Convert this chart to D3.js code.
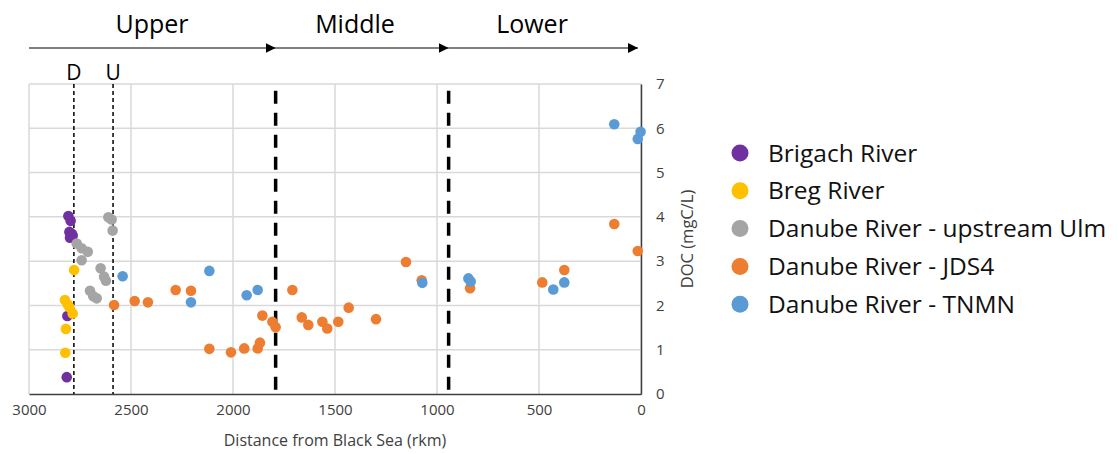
<!DOCTYPE html>
<html><head><meta charset="utf-8">
<script src="https://cdn.jsdelivr.net/npm/d3@7"></script>
<style>body{margin:0;background:#fff;}svg{font-family:"Open Sans",sans-serif;}</style>
</head><body><svg id="c" width="1118" height="454"></svg>
<script>
const seriesNames = ["Brigach River","Breg River","Danube River - upstream Ulm","Danube River - JDS4","Danube River - TNMN"];
const seriesColors = ["#7030A0","#FFC000","#A5A5A5","#ED7D31","#5B9BD5"];
const brigach = [[2807,4.02],[2796,3.91],[2802,3.66],[2790,3.62],[2799,3.53],[2786,3.58],[2812,1.76],[2815,0.38]];
const breg = [[2779,2.80],[2824,2.12],[2810,2.02],[2802,1.96],[2786,1.82],[2819,1.47],[2822,0.93]];
const upstreamUlm = [[2611,3.99],[2595,3.94],[2590,3.69],[2766,3.40],[2742,3.29],[2712,3.21],[2742,3.02],[2649,2.84],[2632,2.65],[2623,2.56],[2701,2.33],[2685,2.21],[2668,2.16]];
const jds4 = [[2583,2.01],[2482,2.10],[2417,2.07],[2281,2.35],[2206,2.33],[2116,1.02],[2010,0.94],[1945,1.03],[1879,1.03],[1868,1.16],[1856,1.77],[1807,1.63],[1791,1.51],[1709,2.35],[1663,1.73],[1631,1.56],[1562,1.63],[1538,1.48],[1484,1.63],[1433,1.95],[1299,1.69],[1152,2.98],[1075,2.57],[838,2.39],[484,2.52],[376,2.80],[131,3.84],[16,3.23]];
const tnmn = [[2541,2.66],[2116,2.78],[2206,2.07],[1933,2.23],[1879,2.35],[1072,2.51],[846,2.61],[835,2.54],[430,2.36],[376,2.52],[131,6.09],[16,5.76],[2,5.92]];
const seriesData = [brigach, breg, upstreamUlm, jds4, tnmn];
const xTicks = [3000,2500,2000,1500,1000,500,0];
const yTicks = [0,1,2,3,4,5,6,7];
const sections = ["Upper","Middle","Lower"];
const sectionBounds = [3000,1791,943,0];
const thinLines = [{label:"D",km:2780},{label:"U",km:2588}];

const svg = d3.select("#c");
const x = d3.scaleLinear().domain([3000,0]).range([29,641]);
const y = d3.scaleLinear().domain([0,7]).range([394,84]);

// gridlines
svg.append("g").selectAll("line").data(yTicks.slice(1)).join("line")
  .attr("x1",x(3000)).attr("x2",x(0)).attr("y1",d=>y(d)).attr("y2",d=>y(d))
  .attr("stroke","#d9d9d9").attr("stroke-width",1.5);
svg.append("g").selectAll("line").data(xTicks).join("line")
  .attr("x1",d=>x(d)).attr("x2",d=>x(d)).attr("y1",y(0)).attr("y2",y(7))
  .attr("stroke","#d9d9d9").attr("stroke-width",1.5);

// bottom axis
const xAxis = svg.append("g").attr("transform",`translate(0,${y(0)})`)
  .call(d3.axisBottom(x).tickValues(xTicks).tickFormat(d3.format("d")).tickSize(0).tickPadding(10));
xAxis.select(".domain").attr("stroke","#404040").attr("stroke-width",1.5);
xAxis.selectAll("text").attr("font-size",15).attr("fill","#404040").attr("font-family","Open Sans");
// right axis
const yAxis = svg.append("g").attr("transform",`translate(${x(0)},0)`)
  .call(d3.axisRight(y).tickValues(yTicks).tickFormat(d3.format("d")).tickSize(0).tickPadding(15));
yAxis.select(".domain").attr("stroke","#404040").attr("stroke-width",1.5);
yAxis.selectAll("text").attr("font-size",15).attr("fill","#404040").attr("font-family","Open Sans");

svg.append("text").attr("x",335).attr("y",446).attr("text-anchor","middle")
  .attr("font-size",16).attr("fill","#404040").text("Distance from Black Sea (rkm)");
svg.append("text").attr("transform",`translate(693,${y(3.5)}) rotate(-90)`).attr("text-anchor","middle")
  .attr("font-size",16.5).attr("fill","#404040").text("DOC (mgC/L)");

// thin dashed lines D / U
thinLines.forEach(t=>{
  svg.append("line").attr("x1",x(t.km)).attr("x2",x(t.km)).attr("y1",y(7)).attr("y2",y(0))
    .attr("stroke","#000").attr("stroke-width",1.5).attr("stroke-dasharray","4,3");
  svg.append("text").attr("x",x(t.km)).attr("y",80).attr("text-anchor","middle")
    .attr("font-size",21).attr("fill","#000").text(t.label);
});
// thick dashed section lines
[sectionBounds[1],sectionBounds[2]].forEach(km=>{
  svg.append("line").attr("x1",x(km)).attr("x2",x(km)).attr("y1",y(6.85)).attr("y2",y(0))
    .attr("stroke","#000").attr("stroke-width",3.5).attr("stroke-dasharray","13,9");
});

// arrows
const defs = svg.append("defs");
defs.append("marker").attr("id","ah").attr("viewBox","0 0 10 10").attr("refX",10).attr("refY",5)
  .attr("markerWidth",10).attr("markerHeight",10).attr("markerUnits","userSpaceOnUse").attr("orient","auto")
  .append("path").attr("d","M0,0L10,5L0,10Z").attr("fill","#000");
sections.forEach((s,i)=>{
  const x1 = x(sectionBounds[i]), x2 = i===2 ? x(0)-3 : x(sectionBounds[i+1]);
  svg.append("line").attr("x1",x1).attr("x2",x2).attr("y1",48).attr("y2",48)
    .attr("stroke","#000").attr("stroke-width",1).attr("marker-end","url(#ah)");
});
const sectionLabelX = [152,355,532];
sections.forEach((s,i)=>{
  svg.append("text").attr("x",sectionLabelX[i]).attr("y",33).attr("text-anchor","middle")
    .attr("font-size",25).attr("fill","#000").text(s);
});

// points
seriesData.forEach((data,i)=>{
  svg.append("g").selectAll("circle").data(data).join("circle")
    .attr("cx",d=>x(d[0])).attr("cy",d=>y(d[1])).attr("r",5.3)
    .attr("fill",seriesColors[i]);
});

// legend
const lg = svg.append("g");
seriesNames.forEach((n,i)=>{
  const yy = 153 + i*37.8;
  lg.append("circle").attr("cx",740).attr("cy",yy).attr("r",8.5).attr("fill",seriesColors[i]);
  lg.append("text").attr("x",768).attr("y",yy+8.5).attr("font-size",24.5).attr("fill","#111").text(n);
});
</script></body></html>
